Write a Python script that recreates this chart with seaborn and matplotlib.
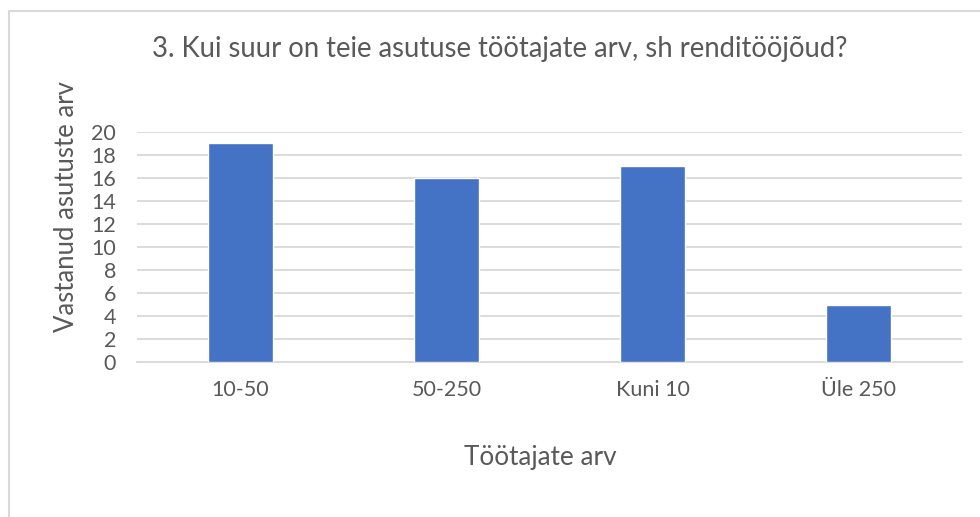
import matplotlib
matplotlib.use("Agg")
import pandas as pd
import seaborn as sns
import matplotlib.pyplot as plt
from matplotlib.lines import Line2D

categories = ["10-50", "50-250", "Kuni 10", "Üle 250"]
counts = [19, 16, 17, 5]
yticks = [0, 2, 4, 6, 8, 10, 12, 14, 16, 18, 20]

title = "3. Kui suur on teie asutuse töötajate arv, sh renditööjõud?"
xlabel = "Töötajate arv"
ylabel = "Vastanud asutuste arv"

df = pd.DataFrame({"cat": categories, "n": counts})

sns.set_style("white")
plt.rcParams["font.family"] = ["Lato", "DejaVu Sans"]
text_col = "#595959"
grid_col = "#d9d9d9"

W, H = 980, 517
fig = plt.figure(figsize=(W / 100, H / 100), dpi=100)
ax = fig.add_axes([137 / W, 1 - 362 / H, (962 - 137) / W, (362 - 132) / H])

sns.barplot(data=df, x="cat", y="n", color="#4472c4", saturation=1,
            width=0.315, ax=ax, zorder=3)

ax.set_ylim(0, 20)
ax.set_xlim(-0.5, len(categories) - 0.5)
ax.set_yticks(yticks)
ax.yaxis.grid(True, color=grid_col, linewidth=1.3, zorder=0)
for s in ["top", "right", "left"]:
    ax.spines[s].set_visible(False)
ax.spines["bottom"].set_color(grid_col)
ax.spines["bottom"].set_linewidth(1.3)
ax.tick_params(axis="both", length=0, labelsize=15.5, labelcolor=text_col)
ax.tick_params(axis="x", pad=13)
ax.tick_params(axis="y", pad=15)
ax.set_xlabel("")
ax.set_ylabel("")

fig.text(500 / W, 1 - 49 / H, title, ha="center", va="center",
         fontsize=19.8, color=text_col)
fig.text(540 / W, 1 - 458 / H, xlabel, ha="center", va="center",
         fontsize=18.8, color=text_col)
fig.text(67 / W, 1 - 207 / H, ylabel, ha="center", va="center",
         rotation=90, fontsize=18.5, color=text_col)

# chart frame (only left and top edges visible in the crop)
fig.add_artist(Line2D([9 / W, 9 / W], [0, 1 - 11 / H], transform=fig.transFigure,
                      color=grid_col, linewidth=1.5))
fig.add_artist(Line2D([9 / W, 1], [1 - 11 / H, 1 - 11 / H], transform=fig.transFigure,
                      color=grid_col, linewidth=1.5))

fig.savefig("out.png", dpi=100, facecolor="white")
